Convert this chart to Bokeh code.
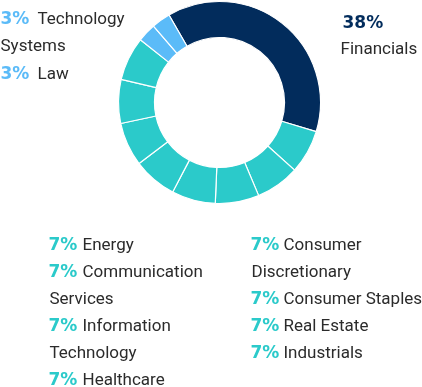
import math
from bokeh.plotting import figure
from bokeh.models import Range1d, ColumnDataSource
from bokeh.core.properties import value
from bokeh.embed import file_html
from bokeh.resources import INLINE

# ---- data ----
sectors = ["Financials", "Consumer Discretionary", "Consumer Staples", "Real Estate",
           "Industrials", "Healthcare", "Information Technology", "Communication Services",
           "Energy", "Law", "Technology Systems"]
shares = [38, 7, 7, 7, 7, 7, 7, 7, 7, 3, 3]
legend_top_left = ["Technology Systems", "Law"]
legend_top_right = ["Financials"]
legend_bottom_left = ["Energy", "Communication Services", "Information Technology", "Healthcare"]
legend_bottom_right = ["Consumer Discretionary", "Consumer Staples", "Real Estate", "Industrials"]

NAVY = "#022C5C"
TEAL = "#2BCACA"
LBLUE = "#5BBBF8"
TXT = "#2B2B2B"


def color_for(share):
    if share >= 30:
        return NAVY
    if share >= 5:
        return TEAL
    return LBLUE


W, H = 422, 387
p = figure(width=W, height=H, x_range=Range1d(0, W), y_range=Range1d(0, H),
           output_backend="svg", toolbar_location=None, min_border=0)
p.axis.visible = False
p.grid.visible = False
p.outline_line_color = None
p.background_fill_color = "white"
p.border_fill_color = "white"
p.styles = {"position": "fixed", "left": "0px", "top": "0px"}

# ---- donut ----
cx, cy = 219, H - 102
start_deg = 120.0
total = sum(shares)
starts, ends, cols = [], [], []
cum = 0
for s in shares:
    a0 = start_deg - cum / total * 360.0
    cum += s
    a1 = start_deg - cum / total * 360.0
    starts.append(math.radians(a0))
    ends.append(math.radians(a1))
    cols.append(color_for(s))
src = ColumnDataSource(dict(start=starts, end=ends, color=cols, name=sectors, share=shares))
p.annular_wedge(x=cx, y=cy, inner_radius=65, outer_radius=101, start_angle="start",
                end_angle="end", direction="clock", fill_color="color", line_color="white",
                line_width=1.2, source=src)

share_of = dict(zip(sectors, shares))

FONT = value("Roboto")
PFONT = value("DejaVu Sans")
FS = "17px"
PFS = "17px"
DY = 7  # baseline correction


def wrap(label):
    if len(label) > 17 and " " in label:
        a, b = label.split(" ", 1)
        return [a, b]
    return [label]


pct_x, pct_y, pct_t, pct_c = [], [], [], []
lab_x, lab_y, lab_t = [], [], []


def column(labels, x0, label_dx, base0, step, cont_dx=0):
    line = 0
    for lab in labels:
        sh = share_of[lab]
        parts = wrap(lab)
        yb = H - (base0 - DY + line * step)
        pct_x.append(x0); pct_y.append(yb); pct_t.append(f"{sh}%"); pct_c.append(color_for(sh))
        lab_x.append(x0 + label_dx); lab_y.append(yb); lab_t.append(parts[0])
        line += 1
        for extra in parts[1:]:
            lab_x.append(x0 + cont_dx); lab_y.append(H - (base0 - DY + line * step)); lab_t.append(extra)
            line += 1


column(legend_top_left, 0, 37, 24, 27.5)
column(legend_bottom_left, 48, 34, 250, 27, 1)
column(legend_bottom_right, 250, 33, 250, 27, 1)

# Financials: percent above label
for lab in legend_top_right:
    sh = share_of[lab]
    pct_x.append(342); pct_y.append(H - (28 - DY)); pct_t.append(f"{sh}%"); pct_c.append(color_for(sh))
    lab_x.append(340); lab_y.append(H - (54 - DY)); lab_t.append(lab)

psrc = ColumnDataSource(dict(x=pct_x, y=pct_y, text=pct_t, color=pct_c))
lsrc = ColumnDataSource(dict(x=lab_x, y=lab_y, text=lab_t))
p.text(x="x", y="y", text="text", source=psrc, text_color="color", text_font=PFONT,
       text_font_size=PFS, text_font_style="bold", text_baseline="alphabetic", text_align="left")
p.text(x="x", y="y", text="text", source=lsrc, text_color=TXT, text_font=FONT,
       text_font_size=FS, text_baseline="alphabetic", text_align="left")

open("out.html", "w").write(file_html(p, INLINE))
